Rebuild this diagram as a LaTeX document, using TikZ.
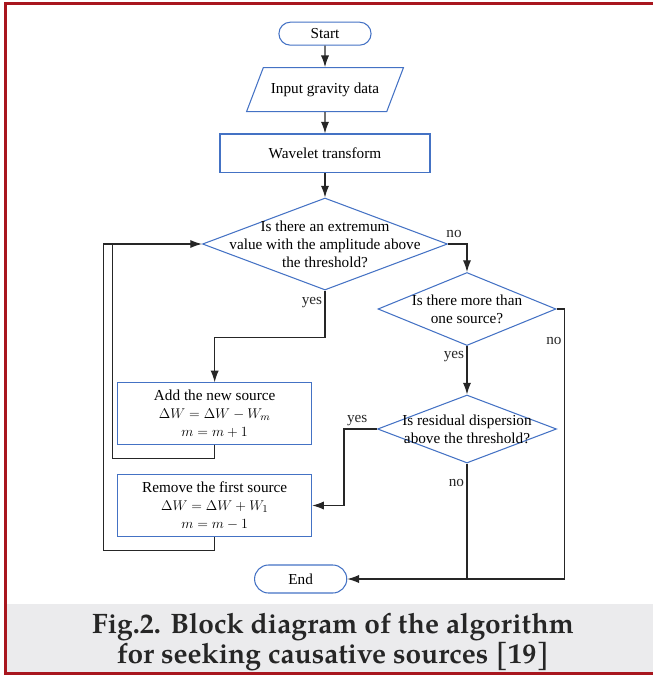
\documentclass[tikz,border=0pt]{standalone}
\usepackage{fontspec}
\setmainfont{Liberation Serif}
\newfontfamily\capfont{texgyrepagella-bold.otf}
\usepackage{tikz}
\usetikzlibrary{positioning,calc,shapes,arrows.meta}
\definecolor{boxblue}{RGB}{68,114,196}
\definecolor{framered}{RGB}{168,22,30}
\definecolor{capgray}{RGB}{235,235,237}
\tikzset{
	auto, on grid, thick,% on grid: the distances below are from centre to centre
	my edge/.style = {-{Latex[length=10pt,width=7pt]}, line width=1pt, draw=black!85},
	my line/.style = {my edge, -},
	lbl/.style = {inner sep=2pt, text=black!85}
}

\begin{document}
\begin{tikzpicture}[font=\fontsize{13}{15.5}\selectfont]
            \tikzset{my box/.style = {rectangle, draw=boxblue, line width=0.9pt, align=center, inner sep=2pt}}
            \tikzset{my term/.style = {rounded rectangle, draw=boxblue, line width=0.9pt, minimum width=3cm}}
            \tikzset{my io/.style = {trapezium, trapezium left angle=54, trapezium right angle=126, trapezium stretches=true, draw=boxblue, line width=0.9pt, minimum width=4.71cm, minimum height=1.32cm}}
            \tikzset{my test/.style = {diamond, draw=boxblue, line width=0.9pt, inner sep=0pt}}
            \clip (0,0) rectangle (19.59,-20.25);
            \fill[capgray] (0.2,-18.12) rectangle (19.8,-20.16);
            \draw[framered, line width=0.075cm] (0.16,-0.111) rectangle (20.1,-20.2);
            % main column
            \node[my term, minimum height=0.69cm] (start) at (9.75,-1.01) {Start};
            \node[my io] (input) [below=1.68 of start] {Input gravity data};
            \node[my box, minimum width=6.3cm, minimum height=1.16cm] (wavelet) [below=1.91 of input] {Wavelet transform};
            \node[my test, minimum width=7.35cm, minimum height=2.76cm, label={[name=q1t, align=center]center:Is there an extremum\\value with the amplitude above\\the threshold?}] (q1) [below=2.72 of wavelet] {};
            \node[my test, minimum width=5.34cm, minimum height=2.19cm, label={[name=q2t, align=center]center:Is there more than\\one source?}] (q2) [below right=1.95 and 4.26 of q1] {};
            \node[my test, minimum width=5.37cm, minimum height=2.04cm, label={[name=q3t, align=center]center:Is residual dispersion\\above the threshold?}] (q3) [below=3.6 of q2] {};
            \node[my box, minimum width=5.82cm, minimum height=1.84cm] (add) [below left=5.085 and 3.31 of q1] {Add the new source\\$\Delta W=\Delta W-W_m$\\$m=m+1$};
            \node[my box, minimum width=5.82cm, minimum height=1.86cm] (remove) [below=2.76 of add] {Remove the first source\\$\Delta W=\Delta W+W_1$\\$m=m-1$};
            \node[my term, minimum height=0.84cm] (stop) [below right=2.205 and 2.58 of remove] {End};
            \draw[my edge] (start) -- (input);
            \draw[my edge] (input) -- (wavelet);
            \draw[my edge] (wavelet) -- (q1);
            \draw[my edge] (q1.east) -| node[lbl, pos=0.16, above, yshift=3pt] (no1) {no} (q2.north);
            \draw[my edge] (q1.south) -- node[lbl, pos=0.25, left] (yes1) {yes} ++(0,-1.4) -| (add.north);
            \draw[my edge] (q2.south) -- node[lbl, pos=0.22, left] (yes2) {yes} (q3.north);
            \draw[my edge] (q2.east) -- ++(0.24,0) |- node[lbl, pos=0.06, left] (no2) {no} (stop.east);
            \draw[my edge] (q3.west) -- node[lbl, pos=0.6, above] (yes3) {yes} ++(-0.99,0) |- (remove.east);
            \draw[my line] (q3.south) -- node[lbl, pos=0.17, left] (no3) {no} (q3.south |- stop.east);
            % the two loops back to the first test
            \coordinate (loopA) at ([xshift=-2.69cm]q1.west);
            \coordinate (loopB) at ([xshift=-2.95cm]q1.west);
            \draw[my edge] (add.south) -- ++(0,-0.41) -| (loopA) -- (q1.west);
            \draw[my line] (remove.south) -- ++(0,-0.4) -| (loopB) -- (loopA);
            \node[font=\capfont\fontsize{24}{25.5}\selectfont, text=black!85, align=center] (caption) at (9.99,-19.26) {Fig.2. Block diagram of the algorithm\\for seeking causative sources [19]};
        \end{tikzpicture}
\end{document}
